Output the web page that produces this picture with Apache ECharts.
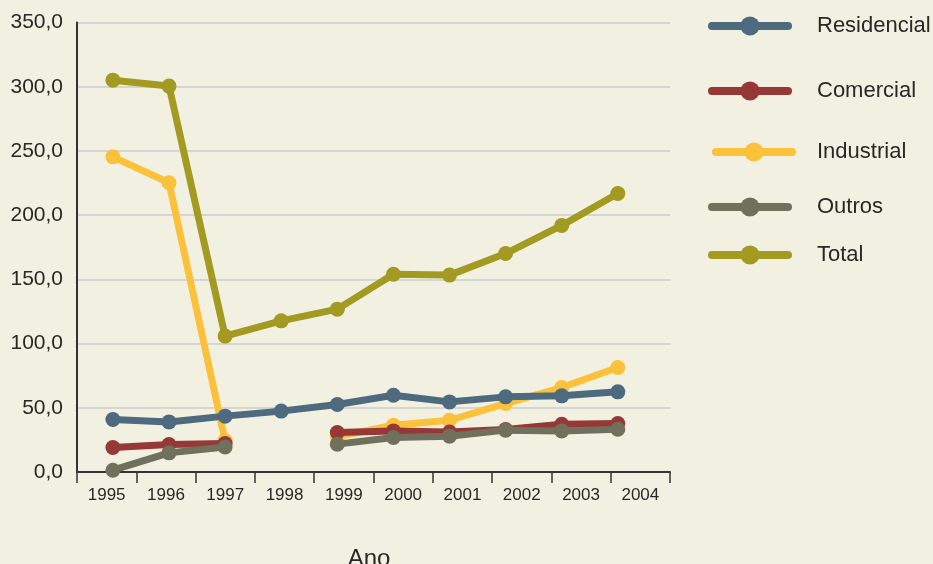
<!DOCTYPE html>
<html>
<head>
<meta charset="utf-8">
<script src="https://cdn.jsdelivr.net/npm/echarts@6/dist/echarts.min.js"></script>
<style>
  html, body { margin: 0; padding: 0; background: #f2f1e1; }
  #chart { width: 933px; height: 564px; }
</style>
</head>
<body>
<div id="chart"></div>
<script>
// Consumo por classe, 1995–2004
const years = [1995, 1996, 1997, 1998, 1999, 2000, 2001, 2002, 2003, 2004];
const residencial = [40.9, 39.0, 43.5, 47.4, 52.6, 59.8, 54.6, 58.5, 59.3, 62.4];
const comercial   = [19.1, 21.4, 22.2, null, 30.8, 32.0, 31.2, 33.1, 37.2, 37.8];
const industrial  = [245.4, 225.2, 24.5, null, 27.5, 36.4, 40.3, 53.3, 65.8, 81.4];
const outros      = [1.4, 14.9, 19.5, null, 21.7, 26.9, 27.9, 32.6, 32.0, 33.3];
const total       = [305.1, 300.5, 105.8, 117.7, 126.8, 154.0, 153.3, 170.1, 192.0, 216.9];
const yTicks = [0, 50, 100, 150, 200, 250, 300, 350];

const seriesDefs = [
  { name: 'Residencial', values: residencial, color: '#4e6a7e', z: 5, legendTop: 27 },
  { name: 'Comercial',   values: comercial,   color: '#963836', z: 3, legendTop: 92 },
  { name: 'Industrial',  values: industrial,  color: '#fbc13b', z: 2, legendTop: 153 },
  { name: 'Outros',      values: outros,      color: '#6f715d', z: 4, legendTop: 208 },
  { name: 'Total',       values: total,       color: '#a39a21', z: 6, legendTop: 256 }
];

const fontFamily = '"Liberation Sans", Arial, sans-serif';
const textColor = '#2a2727';

const chart = echarts.init(document.getElementById('chart'), null, { renderer: 'canvas' });

const legendItemH = 24;
const legends = seriesDefs.map(d => ({
  data: [d.name],
  orient: 'vertical',
  left: d.name === 'Industrial' ? 712 : 708,
  top: d.legendTop - legendItemH / 2,
  padding: 0,
  itemWidth: 76,
  itemHeight: legendItemH,
  selectedMode: false,
  lineStyle: { width: 8, cap: 'round' },
  textStyle: {
    fontSize: 22,
    color: textColor,
    fontFamily: fontFamily,
    padding: [0, 0, 0, d.name === 'Industrial' ? 20 : 24]
  }
}));

chart.setOption({
  backgroundColor: '#f2f1e1',
  animation: false,
  legend: legends,
  grid: { left: 77, right: 263, top: 22.5, bottom: 92, containLabel: false, outerBoundsMode: 'none' },
  xAxis: [
    {
      type: 'category',
      data: years.map(String),
      boundaryGap: true,
      position: 'bottom',
      axisLine: { show: true, lineStyle: { color: '#333', width: 2 } },
      axisTick: { show: true, length: 11, lineStyle: { color: '#333', width: 1.5 } },
      axisLabel: { fontSize: 17, color: textColor, fontFamily: fontFamily, margin: 15 },
      splitLine: { show: false },
      name: 'Ano',
      nameLocation: 'middle',
      nameGap: 75,
      nameTextStyle: { fontSize: 24, color: textColor, fontFamily: fontFamily, padding: [0, 9, 0, 0] }
    },
    {
      type: 'value',
      min: years[0] - 0.64,
      max: years[years.length - 1] + 0.93,
      show: false,
      splitLine: { show: false }
    }
  ],
  yAxis: {
    type: 'value',
    min: yTicks[0],
    max: yTicks[yTicks.length - 1],
    interval: 50,
    axisLine: { show: true, lineStyle: { color: '#333', width: 2 } },
    axisTick: { show: false },
    axisLabel: {
      fontSize: 21,
      color: textColor,
      fontFamily: fontFamily,
      margin: 14,
      formatter: v => v.toFixed(1).replace('.', ',')
    },
    splitLine: { show: true, lineStyle: { color: '#d5d5d1', width: 2 } }
  },
  series: seriesDefs.map(d => ({
    name: d.name,
    type: 'line',
    xAxisIndex: 1,
    z: d.z,
    data: years.map((y, i) => [y, d.values[i]]),
    connectNulls: false,
    symbol: 'circle',
    symbolSize: 15,
    showSymbol: true,
    lineStyle: { color: d.color, width: 7 },
    itemStyle: { color: d.color },
    emphasis: { disabled: true }
  }))
});
</script>
</body>
</html>
